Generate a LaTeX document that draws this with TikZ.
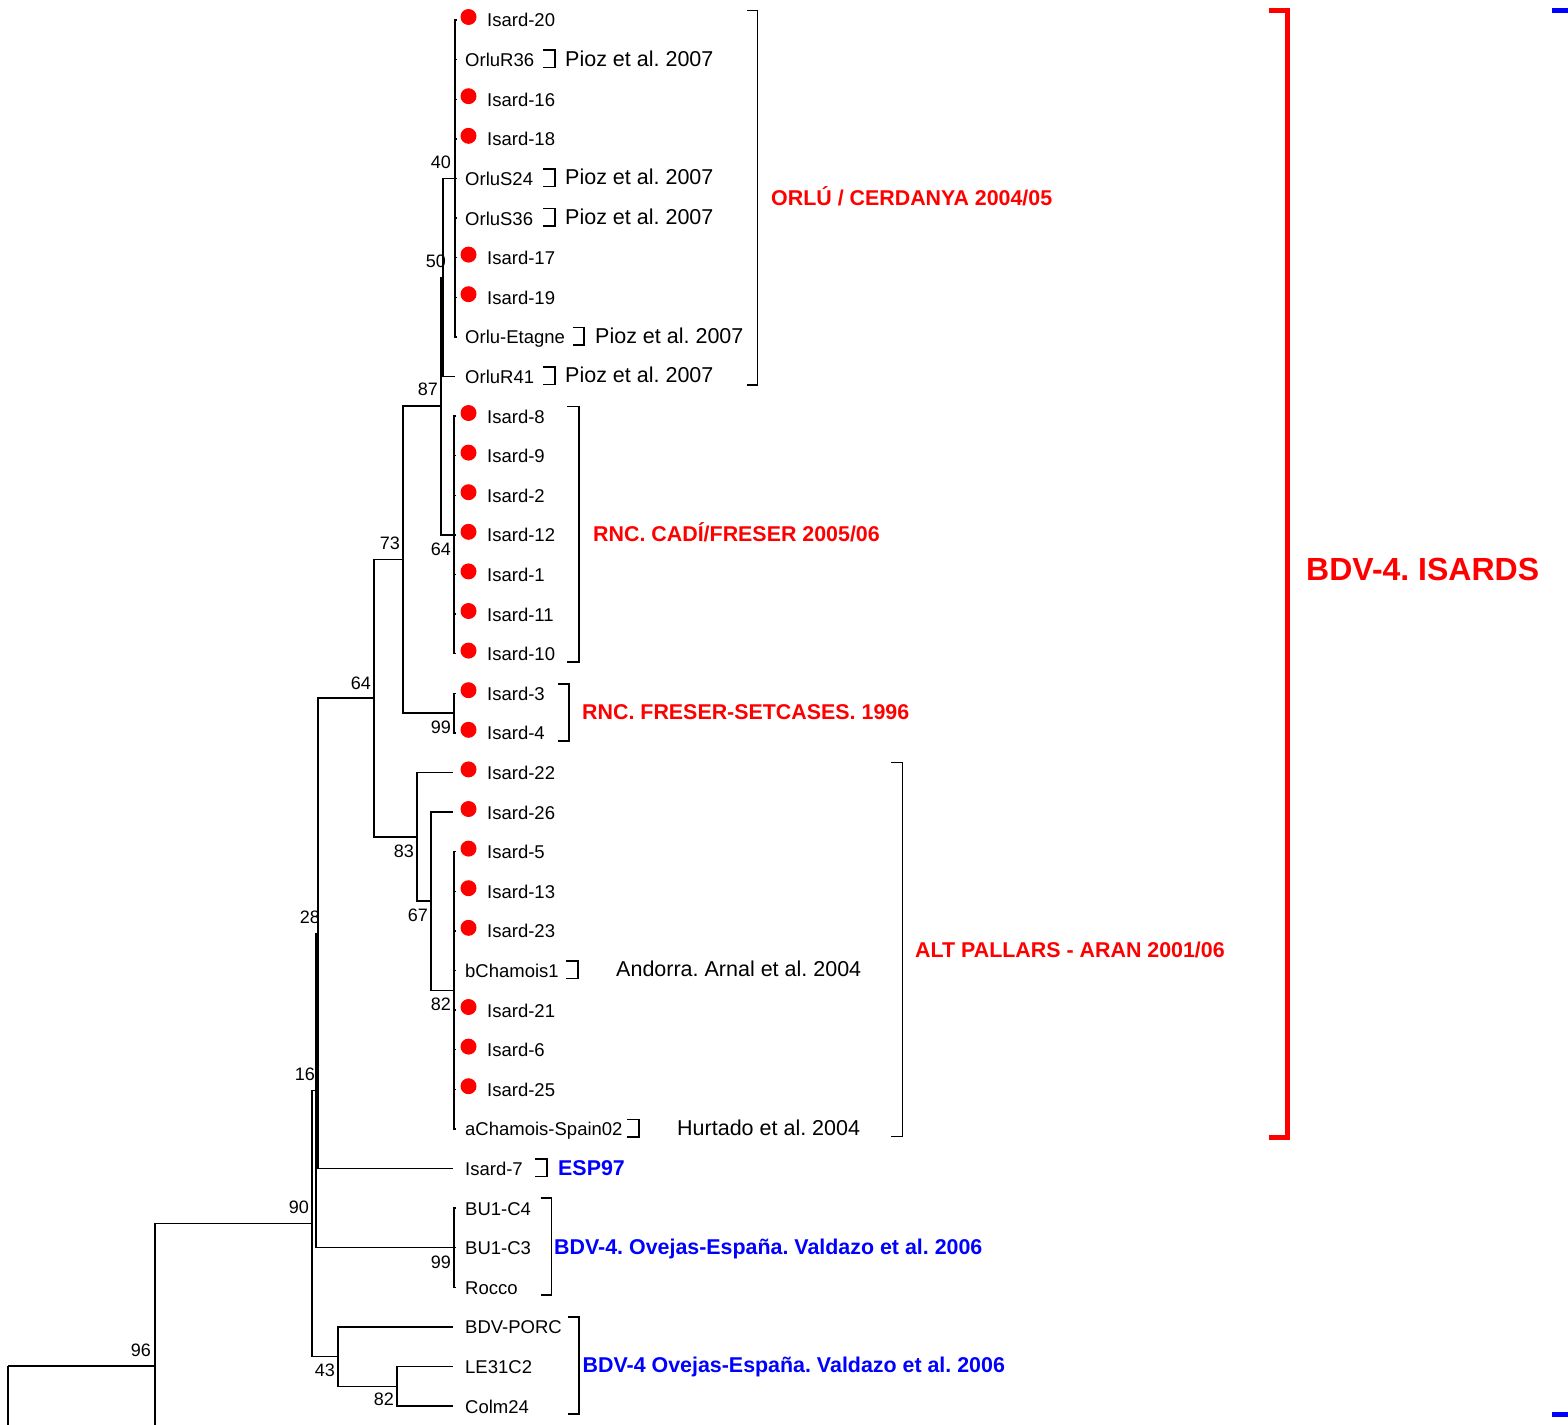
\documentclass[tikz,border=0pt]{standalone}
\usepackage{fontspec}
\setmainfont{Liberation Sans}
\frenchspacing
\definecolor{tred}{RGB}{255,0,0}
\definecolor{tblue}{RGB}{0,0,255}
\begin{document}
\frenchspacing
\begin{tikzpicture}[x=1pt,y=-1pt,
  br/.style={line width=1.4pt},
  brk/.style={line width=1.4pt},
  leaf/.style={anchor=base west, inner sep=0pt, font=\fontsize{18.5}{20}\selectfont},
  boot/.style={anchor=east, inner sep=0pt, font=\fontsize{18}{20}\selectfont},
  refx/.style={anchor=base west, inner sep=0pt, font=\fontsize{21.5}{24}\selectfont},
  grp/.style={anchor=base west, inner sep=0pt, font=\bfseries\fontsize{21.4}{24}\selectfont},
  dotm/.style={circle, fill=tred, draw=none, inner sep=0pt, minimum size=16pt}]
\useasboundingbox (0,0) rectangle (1568,1424);
\clip (0,0) rectangle (1568,1424);

% ---------- internal nodes ----------
\coordinate (n40) at (455,178.4);
\coordinate (n50) at (443,277.4);
\coordinate (n87) at (441,406.1);
\coordinate (n64c) at (454,534.8);
\coordinate (n99a) at (454,713);
\coordinate (n73) at (403,559.5);
\coordinate (n82a) at (454,990.2);
\coordinate (n67) at (431,901.1);
\coordinate (n83) at (417,836.8);
\coordinate (n64) at (374,698.1);
\coordinate (n28) at (318,933.3);
\coordinate (n99b) at (454,1247.6);
\coordinate (n16) at (316,1090.4);
\coordinate (n82b) at (397,1386.2);
\coordinate (n43) at (338,1356.5);
\coordinate (n90) at (312,1223.5);
\coordinate (n96) at (155,1366);
\coordinate (root) at (8,1366);
\coordinate (out96) at (155,1440);
\coordinate (outroot) at (8,1440);

% ---------- leaf labels ----------
\foreach \i/\y/\nm/\d in {
  0/20/Isard-20/1, 1/59.6/OrluR36/0, 2/99.2/Isard-16/1, 3/138.8/Isard-18/1,
  4/178.4/OrluS24/0, 5/218/OrluS36/0, 6/257.6/Isard-17/1, 7/297.2/Isard-19/1,
  8/336.8/Orlu-Etagne/0, 9/376.4/OrluR41/0,
  10/416/Isard-8/1, 11/455.6/Isard-9/1, 12/495.2/Isard-2/1, 13/534.8/Isard-12/1,
  14/574.4/Isard-1/1, 15/614/Isard-11/1, 16/653.6/Isard-10/1,
  17/693.2/Isard-3/1, 18/732.8/Isard-4/1,
  19/772.4/Isard-22/1, 20/812/Isard-26/1, 21/851.6/Isard-5/1, 22/891.2/Isard-13/1,
  23/930.8/Isard-23/1, 24/970.4/bChamois1/0, 25/1010/Isard-21/1, 26/1049.6/Isard-6/1,
  27/1089.2/Isard-25/1, 28/1128.8/aChamois-Spain02/0, 29/1168.4/Isard-7/0,
  30/1208/BU1-C4/0, 31/1247.6/BU1-C3/0, 32/1287.2/Rocco/0,
  33/1326.8/BDV-PORC/0, 34/1366.4/LE31C2/0, 35/1406/Colm24/0} {
  \ifnum\d=1
    \node[leaf] (L\i) at (487,\y+7) {\nm};
    \node[dotm] (D\i) at (468.5,\y-3) {};
  \else
    \node[leaf] (L\i) at (465,\y+7) {\nm};
  \fi
}

% ---------- leaf tips ----------
\foreach \i/\y in {0/20,1/59.6,2/99.2,3/138.8,4/178.4,5/218,6/257.6,7/297.2,8/336.8}
  {\coordinate (T\i) at (457,\y); \draw[br] (n40) |- (T\i);}
\coordinate (T9) at (455,376.4);
\foreach \i/\y in {10/416,11/455.6,12/495.2,13/534.8,14/574.4,15/614,16/653.6}
  {\coordinate (T\i) at (456,\y); \draw[br] (n64c) |- (T\i);}
\foreach \i/\y in {17/693.2,18/732.8}
  {\coordinate (T\i) at (456,\y); \draw[br] (n99a) |- (T\i);}
\coordinate (T19) at (453,772.4);
\coordinate (T20) at (453,812);
\foreach \i/\y in {21/851.6,22/891.2,23/930.8,24/970.4,25/1010,26/1049.6,27/1089.2,28/1128.8}
  {\coordinate (T\i) at (456,\y); \draw[br] (n82a) |- (T\i);}
\coordinate (T29) at (453,1168.4);
\foreach \i/\y in {30/1208,31/1247.6,32/1287.2}
  {\coordinate (T\i) at (456,\y); \draw[br] (n99b) |- (T\i);}
\coordinate (T33) at (453,1326.8);
\coordinate (T34) at (453,1366.4);
\coordinate (T35) at (453,1406);

% ---------- branches ----------
\draw[br] (n50) |- (n40);
\draw[br] (n50) |- (T9);
\draw[br] (n87) |- (n50);
\draw[br] (n87) |- (n64c);
\draw[br] (n73) |- (n87);
\draw[br] (n73) |- (n99a);
\draw[br] (n83) |- (T19);
\draw[br] (n83) |- (n67);
\draw[br] (n67) |- (T20);
\draw[br] (n67) |- (n82a);
\draw[br] (n64) |- (n73);
\draw[br] (n64) |- (n83);
\draw[br] (n28) |- (n64);
\draw[br] (n28) |- (T29);
\draw[br] (n16) |- (n28);
\draw[br] (n16) |- (n99b);
\draw[br] (n82b) |- (T34);
\draw[br] (n82b) |- (T35);
\draw[br] (n43) |- (T33);
\draw[br] (n43) |- (n82b);
\draw[br] (n90) |- (n16);
\draw[br] (n90) |- (n43);
\draw[br] (n96) |- (n90);
\draw[br] (n96) -- (out96);
\draw[br] (root) -- (n96);
\draw[br] (root) -- (outroot);

% ---------- bootstrap values ----------
\node[boot] (B40) at (451,162) {40};
\node[boot] (B50) at (446,261) {50};
\node[boot] (B87) at (438,389) {87};
\node[boot] (B73) at (400,543) {73};
\node[boot] (B64c) at (451,549) {64};
\node[boot] (B64) at (371,683) {64};
\node[boot] (B99a) at (451,727) {99};
\node[boot] (B83) at (414,851) {83};
\node[boot] (B67) at (428,915) {67};
\node[boot] (B82a) at (451,1004) {82};
\node[boot] (B28) at (320,917) {28};
\node[boot] (B16) at (315,1074) {16};
\node[boot] (B90) at (309,1207) {90};
\node[boot] (B96) at (151,1350) {96};
\node[boot] (B99b) at (451,1262) {99};
\node[boot] (B43) at (335,1370) {43};
\node[boot] (B82b) at (394,1399) {82};

% ---------- small brackets + references ----------
\foreach \y/\xa/\xb in {59.6/543/555, 178.4/543/555, 218/543/555, 336.8/573/584, 376.4/543/555,
  970.4/566/578, 1128.8/627/639, 1168.4/535/547}
  {\draw[brk] (\xa,\y-9.5) -- (\xb,\y-9.5) -- (\xb,\y+8) -- (\xa,\y+8);}
\node[refx] (R1) at (565,66.1) {Pioz et al. 2007};
\node[refx] (R4) at (565,184.9) {Pioz et al. 2007};
\node[refx] (R5) at (565,224.5) {Pioz et al. 2007};
\node[refx] (R8) at (595,343.3) {Pioz et al. 2007};
\node[refx] (R9) at (565,382.9) {Pioz et al. 2007};
\node[refx] (R24) at (616,976.9) {Andorra. Arnal et al. 2004};
\node[refx] (R28) at (677,1135.3) {Hurtado et al. 2004};

% ---------- group brackets ----------
\draw[brk] (747,10.7) -- (757.5,10.7) -- (757.5,385) -- (747,385);
\draw[brk] (567,406.5) -- (579,406.5) -- (579,662) -- (567,662);
\draw[brk] (558,684) -- (569,684) -- (569,741) -- (558,741);
\draw[brk] (891,762.7) -- (902.7,762.7) -- (902.7,1136.7) -- (891,1136.7);
\draw[brk] (540.5,1198) -- (551.5,1198) -- (551.5,1295) -- (540.5,1295);
\draw[brk] (568,1317) -- (579,1317) -- (579,1414) -- (568,1414);

\node[grp, text=tred] (G1) at (771,205) {ORLÚ / CERDANYA 2004/05};
\node[grp, text=tred] (G2) at (593,541) {RNC. CADÍ/FRESER 2005/06};
\node[grp, text=tred] (G3) at (582,719) {RNC. FRESER-SETCASES. 1996};
\node[grp, text=tred] (G4) at (915,957.3) {ALT PALLARS - ARAN 2001/06};
\node[grp, text=tblue] (G5) at (558,1175) {ESP97};
\node[grp, text=tblue] (G6) at (554,1254) {BDV-4. Ovejas-España. Valdazo et al. 2006};
\node[grp, text=tblue] (G7) at (582.5,1372.7) {BDV-4 Ovejas-España. Valdazo et al. 2006};

% ---------- big brackets ----------
\draw[tred, line width=5pt] (1269,10.3) -- (1287,10.3) -- (1287,1137.5) -- (1269,1137.5);
\node[anchor=base west, inner sep=0pt, text=tred, font=\bfseries\fontsize{32}{36}\selectfont] (G0) at (1306,580.5) {BDV-4. ISARDS};
\draw[tblue, line width=4.5pt] (1552,10.3) -- (1580,10.3);
\draw[tblue, line width=4.5pt] (1552,1414.5) -- (1580,1414.5);
\end{tikzpicture}
\end{document}
